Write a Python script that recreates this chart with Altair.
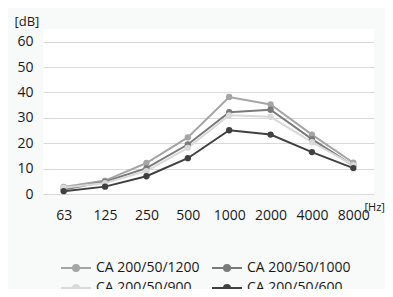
import altair as alt
import pandas as pd

freqs = ["63", "125", "250", "500", "1000", "2000", "4000", "8000"]
series_names = ["CA 200/50/1200", "CA  200/50/1000", "CA 200/50/900", "CA  200/50/600"]
s1200 = [2.8, 5.3, 12.2, 22.3, 38.2, 35.3, 23.4, 12.3]
s1000 = [1.8, 4.8, 10.2, 19.5, 32.2, 33.2, 21.6, 11.2]
s900 = [2.5, 4.3, 9.0, 18.2, 31.0, 30.4, 20.4, 11.4]
s600 = [1.1, 2.9, 7.0, 14.1, 25.1, 23.4, 16.5, 10.2]
colors = {"CA 200/50/1200": "#a5a5a5", "CA  200/50/1000": "#7a7a7a",
          "CA 200/50/900": "#d9d9d9", "CA  200/50/600": "#404040"}
y_ticks = [0, 10, 20, 30, 40, 50, 60]

rows = []
for name, vals in zip(series_names, [s1200, s1000, s900, s600]):
    for f, v in zip(freqs, vals):
        rows.append({"freq": f, "value": v, "series": name})
df = pd.DataFrame(rows)

# legend fills column by column: order so rows read 1200,1000 / 900,600
legend_order = [series_names[0], series_names[2], series_names[1], series_names[3]]

font = "Open Sans"
txt = "#1a1a1a"
symbol_path = "M-2.5,0L2.5,0M-0.5,0a0.5,0.5 0 1,0 1,0a0.5,0.5 0 1,0 -1,0"

chart = alt.Chart(df).mark_line(
    strokeWidth=2,
    point=alt.OverlayMarkDef(size=40, filled=True, opacity=1),
).encode(
    x=alt.X("freq:N", sort=freqs, scale=alt.Scale(paddingInner=0, paddingOuter=0.5),
            axis=alt.Axis(title="[Hz]", labelAngle=0, domain=False, ticks=False,
                          labelPadding=14, labelFontSize=14, labelFont=font, labelColor=txt,
                          titleFont=font, titleFontSize=11, titleFontWeight="normal", titleColor=txt,
                          titleAnchor="start", titleAlign="left", titleX=321, titleY=16,
                          titleBaseline="alphabetic")),
    y=alt.Y("value:Q", scale=alt.Scale(domain=[0, 65], nice=False),
            axis=alt.Axis(title="[dB]", values=y_ticks, domain=False, ticks=False, labelPadding=10,
                          labelFontSize=14, labelFont=font, labelColor=txt,
                          gridColor="#d9d9d9", gridWidth=1,
                          titleFont=font, titleFontSize=13, titleFontWeight="normal", titleColor=txt,
                          titleAngle=0, titleAlign="left", titleBaseline="alphabetic",
                          titleX=-29, titleY=-4)),
    color=alt.Color("series:N",
                    scale=alt.Scale(domain=legend_order, range=[colors[s] for s in legend_order]),
                    legend=alt.Legend(title=None, orient="none", legendX=26, legendY=232,
                                      columns=2, columnPadding=8, rowPadding=6,
                                      symbolType=symbol_path, symbolSize=144, symbolStrokeWidth=2,
                                      labelOffset=13, labelFont=font, labelFontSize=14,
                                      labelColor=txt, padding=0)),
).properties(
    width=331, height=165,
    autosize=alt.AutoSizeParams(type="none"),
    padding={"left": 35, "top": 21, "right": 11, "bottom": 95},
    background="#f8f9f9",
).configure_view(fill="white", stroke=None)

chart.save("out.html", embed_options={"renderer": "svg", "actions": False})
